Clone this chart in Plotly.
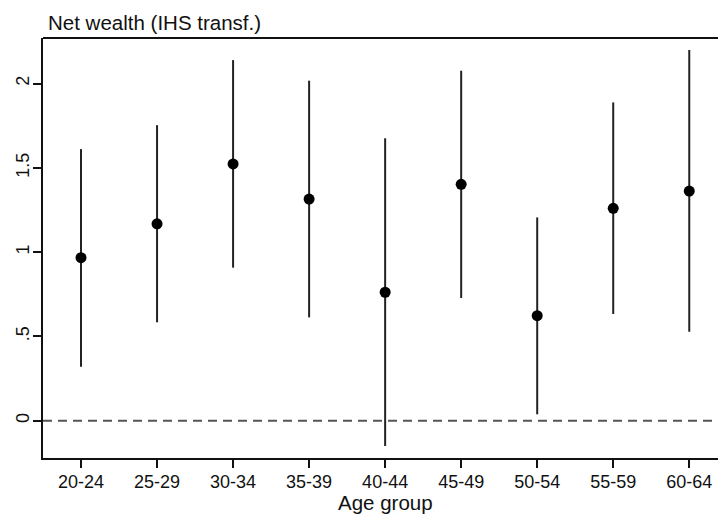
import plotly.graph_objects as go

# Coefficient estimates with 95% confidence intervals by age group
age_groups = ["20-24", "25-29", "30-34", "35-39", "40-44", "45-49", "50-54", "55-59", "60-64"]
estimate = [0.967, 1.168, 1.523, 1.315, 0.762, 1.402, 0.623, 1.260, 1.362]
ci_low = [0.320, 0.584, 0.908, 0.613, -0.150, 0.728, 0.038, 0.633, 0.528]
ci_high = [1.611, 1.753, 2.139, 2.017, 1.675, 2.076, 1.206, 1.888, 2.199]

y_ticks = [0, 0.5, 1, 1.5, 2]
y_tick_text = ["0", ".5", "1", "1.5", "2"]

FONT = "Liberation Sans, Arial, sans-serif"
INK = "#111111"

positions = list(range(1, len(age_groups) + 1))
err_plus = [h - e for h, e in zip(ci_high, estimate)]
err_minus = [e - l for e, l in zip(estimate, ci_low)]

fig = go.Figure()
fig.add_trace(go.Scatter(
    x=positions,
    y=estimate,
    mode="markers",
    marker=dict(color="black", size=11, symbol="circle"),
    error_y=dict(type="data", symmetric=False, array=err_plus, arrayminus=err_minus,
                 width=0, thickness=2, color="#222222"),
    showlegend=False,
))

# Reference line at zero
fig.add_shape(type="line", xref="paper", x0=0, x1=1, yref="y", y0=0, y1=0,
              line=dict(color="#555555", width=2, dash="9px,6px"), layer="below")
# Top frame line
fig.add_shape(type="line", xref="paper", x0=0, x1=1, yref="paper", y0=1, y1=1,
              line=dict(color=INK, width=2))

fig.add_annotation(text="Net wealth (IHS transf.)", xref="paper", yref="paper",
                   x=0.004, y=1.0, xanchor="left", yanchor="bottom", yshift=2,
                   showarrow=False, font=dict(family=FONT, size=20.5, color=INK))
fig.add_annotation(text="Age group", xref="x", yref="paper", x=5, y=0,
                   xanchor="center", yanchor="top", yshift=-31,
                   showarrow=False, font=dict(family=FONT, size=20.5, color=INK))

fig.update_layout(
    width=718, height=514,
    margin=dict(l=43, r=0, t=38, b=56, pad=0),
    plot_bgcolor="white", paper_bgcolor="white",
    font=dict(family=FONT, color=INK),
    xaxis=dict(
        range=[0.5, 9.378],
        tickmode="array", tickvals=positions, ticktext=age_groups,
        ticks="outside", ticklen=8, tickwidth=2, tickcolor=INK,
        ticklabelstandoff=-2,
        showline=True, linewidth=2, linecolor=INK,
        showgrid=False, zeroline=False,
        tickfont=dict(family=FONT, size=18, color=INK),
    ),
    yaxis=dict(
        range=[-0.221, 2.27],
        tickmode="array", tickvals=y_ticks, ticktext=y_tick_text,
        tickangle=-90,
        ticks="outside", ticklen=8, tickwidth=2, tickcolor=INK,
        ticklabelstandoff=-3,
        showline=True, linewidth=2, linecolor=INK,
        showgrid=False, zeroline=False,
        tickfont=dict(family=FONT, size=18, color=INK),
    ),
)

fig.write_html("out.html")
